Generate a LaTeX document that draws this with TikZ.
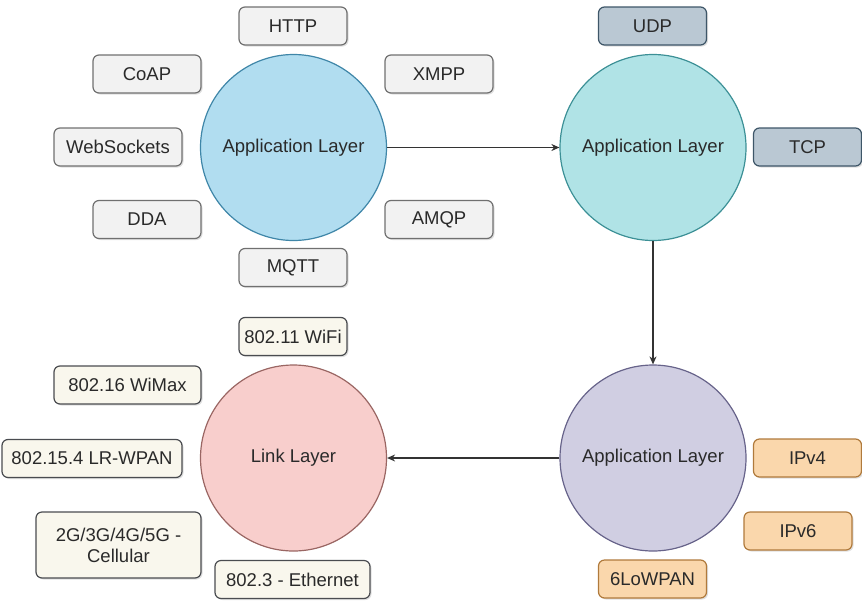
\documentclass[tikz,border=0pt]{standalone}
\usepackage{fontspec}
\setmainfont{Liberation Sans}
\usetikzlibrary{arrows.meta,shadows}

\definecolor{txt}{HTML}{2A2A2A}
\definecolor{blueF}{HTML}{B1DDF0}\definecolor{blueD}{HTML}{3F86A8}
\definecolor{tealF}{HTML}{B0E3E6}\definecolor{tealD}{HTML}{3C9096}
\definecolor{purpF}{HTML}{D0CEE2}\definecolor{purpD}{HTML}{67638A}
\definecolor{pinkF}{HTML}{F8CECC}\definecolor{pinkD}{HTML}{9A6663}
\definecolor{grayF}{HTML}{F2F2F2}\definecolor{grayD}{HTML}{707070}
\definecolor{slateF}{HTML}{BAC8D3}\definecolor{slateD}{HTML}{3E5668}
\definecolor{creamF}{HTML}{F9F7ED}\definecolor{creamD}{HTML}{4A4C50}
\definecolor{orngF}{HTML}{FAD7AC}\definecolor{orngD}{HTML}{B07A3C}
\definecolor{lineC}{HTML}{333333}

\tikzset{
  x=1pt, y=-1pt,
  every node/.style={font=\fontsize{18.5}{21}\selectfont, text=txt},
  layer/.style={circle, draw, line width=1.2pt, minimum size=186pt, inner sep=0pt},
  tag/.style={rounded corners=6pt, draw, line width=1.2pt, minimum height=38pt,
    minimum width=108pt, inner sep=2pt, align=center,
    drop shadow={shadow xshift=1.5pt, shadow yshift=-1.5pt, opacity=0.25}},
  graytag/.style={tag, fill=grayF, draw=grayD},
  slatetag/.style={tag, fill=slateF, draw=slateD},
  creamtag/.style={tag, fill=creamF, draw=creamD},
  orngtag/.style={tag, fill=orngF, draw=orngD},
  flow/.style={draw=lineC, line width=1.2pt, -{Stealth[length=8pt,width=7pt]}},
}

\begin{document}
\begin{tikzpicture}
\useasboundingbox (0,0) rectangle (862,603);

% the four layer circles
\node[layer, fill=blueF, draw=blueD] (app1) at (293.5,147.5) {Application Layer};
\node[layer, fill=tealF, draw=tealD] (app2) at (653,147.5) {Application Layer};
\node[layer, fill=purpF, draw=purpD] (app3) at (653,458) {Application Layer};
\node[layer, fill=pinkF, draw=pinkD] (link) at (293.5,458) {Link Layer};

% protocols around the first circle
\node[graytag] (http) at (293,26) {HTTP};
\node[graytag] (coap) at (147,74) {CoAP};
\node[graytag, minimum width=128pt] (ws) at (118,147) {WebSockets};
\node[graytag] (dda) at (147,219.5) {DDA};
\node[graytag] (mqtt) at (293,267.5) {MQTT};
\node[graytag] (xmpp) at (439,74) {XMPP};
\node[graytag] (amqp) at (439,219.5) {AMQP};

% transport protocols
\node[slatetag] (udp) at (652.5,26) {UDP};
\node[slatetag] (tcp) at (807.5,147) {TCP};

% network protocols
\node[orngtag] (ipv4) at (807.5,458) {IPv4};
\node[orngtag] (ipv6) at (798,531) {IPv6};
\node[orngtag] (lowpan) at (652.5,579) {6LoWPAN};

% link technologies
\node[creamtag] (wifi) at (293,336.5) {802.11 WiFi};
\node[creamtag, minimum width=147pt] (wimax) at (127.5,385) {802.16 WiMax};
\node[creamtag, minimum width=180pt] (lrwpan) at (92,458.5) {802.15.4 LR-WPAN};
\node[creamtag, minimum width=165pt, minimum height=66pt] (cell) at (118.5,545) {2G/3G/4G/5G -\\Cellular};
\node[creamtag, minimum width=155pt] (eth) at (292.5,579.5) {802.3 - Ethernet};

% flow between layers
\draw[flow] (app1.east) -- (app2.west);
\draw[flow] (app2.south) -- (app3.north);
\draw[flow] (app3.west) -- (link.east);
\end{tikzpicture}
\end{document}
